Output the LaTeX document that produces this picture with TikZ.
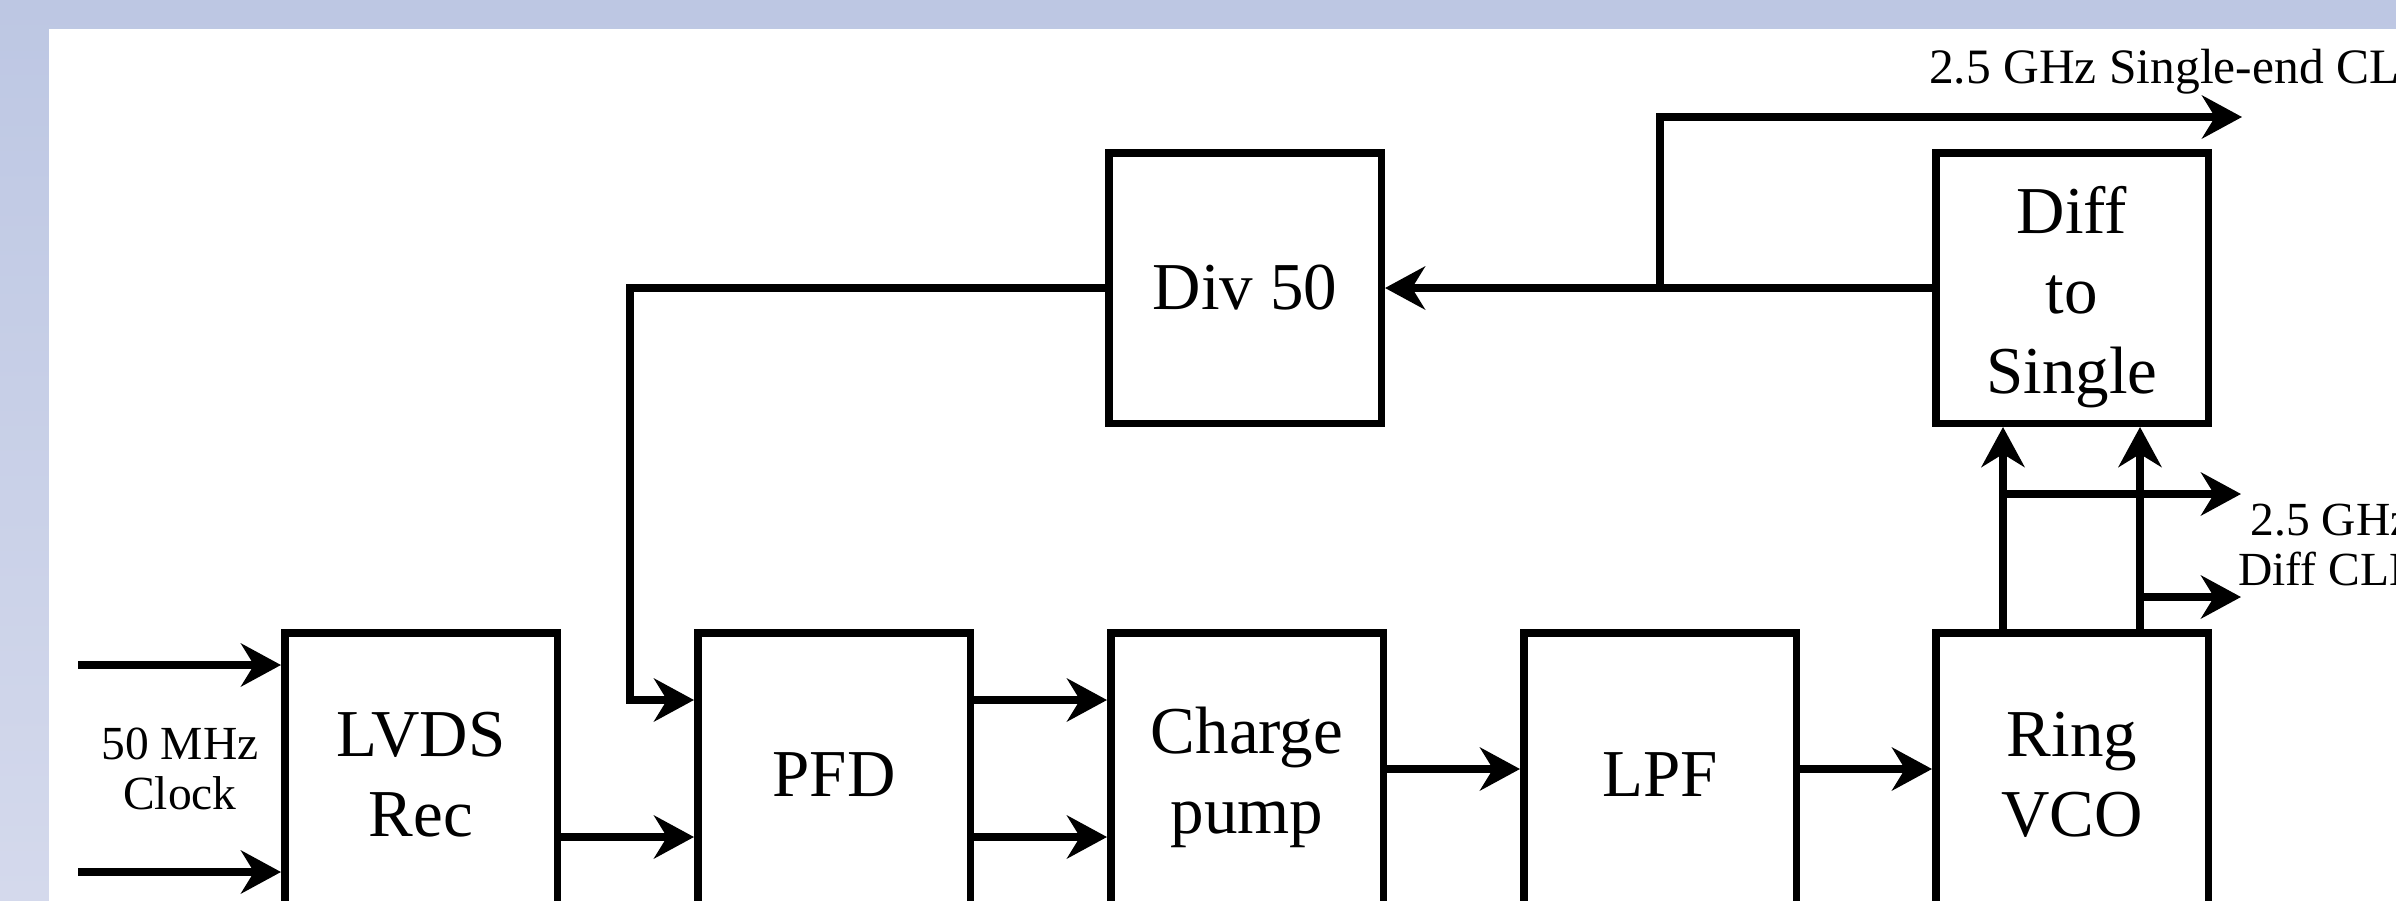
\documentclass[tikz,border=0pt]{standalone}
\usepackage{fontspec}
\setmainfont{Liberation Serif}
\usetikzlibrary{arrows.meta}
\newcommand\bxfont{\fontsize{67pt}{80pt}\selectfont}
\newcommand\lblfont{\fontsize{47.5pt}{50pt}\selectfont}
\newcommand\toplblfont{\fontsize{49.5pt}{52pt}\selectfont}
\definecolor{bgtop}{RGB}{189,199,227}
\definecolor{bgbot}{RGB}{212,217,236}
\tikzset{
  blk/.style={draw, line width=7.5pt, minimum width=272.5pt, inner sep=0pt, align=center, font=\bxfont},
  toprow/.style={blk, minimum height=270.5pt},
  botrow/.style={blk, minimum height=284.5pt},
  arr/.style={line width=7.5pt, -{Stealth[length=40pt,width=43pt,inset=13pt]}},
  lbl/.style={inner sep=0pt, align=center, font=\lblfont}
}
\begin{document}
\begin{tikzpicture}[x=1pt,y=-1pt]
\useasboundingbox (0,0) rectangle (2396,900);
\clip (0,0) rectangle (2396,900);
\shade[top color=bgtop, bottom color=bgbot] (0,0) rectangle (2396,900);
\fill[white] (49,29) rectangle (2420,930);

% boxes
\node[botrow] (lvds) at (421,775) {LVDS\\Rec};
\node[botrow] (pfd)  at (834,775) {PFD};
\node[botrow] (cp)   at (1247,775) {\rule{0pt}{52pt}Charge\\pump};
\node[botrow] (lpf)  at (1660,775) {LPF};
\node[botrow] (vco)  at (2072,775) {Ring\\VCO};
\node[toprow] (div)  at (1245,288) {Div 50};
\node[toprow] (d2s)  at (2072,288) {\rule{0pt}{66pt}Diff\\to\\Single};

% labels
\node[lbl] (clk) at (180,769) {50 MHz\\Clock};
\node[lbl] (dclk) at (2331,545) {2.5 GHz\\Diff CLK};
\node[lbl, font=\toplblfont, anchor=base west] (sclk) at (1929,83) {2.5 GHz Single-end CLK};

% inputs
\coordinate (in1) at (78,665);
\coordinate (in2) at (78,872);
\draw[arr] (in1) -- (in1 -| lvds.west);
\draw[arr] (in2) -- (in2 -| lvds.west);

% forward chain
\draw[arr] ([yshift=-208pt]lvds.north east) -- ([yshift=-208pt]pfd.north west);
\draw[arr] ([yshift=-71pt]pfd.north east) -- ([yshift=-71pt]cp.north west);
\draw[arr] ([yshift=-208pt]pfd.north east) -- ([yshift=-208pt]cp.north west);
\draw[arr] ([yshift=6pt]cp.east) -- ([yshift=6pt]lpf.west);
\draw[arr] ([yshift=6pt]lpf.east) -- ([yshift=6pt]vco.west);

% feedback
\coordinate (pfdA) at ([yshift=-71pt]pfd.north west);
\coordinate (fb) at (630,0);
\draw[arr] (div.west) -| (fb |- pfdA) -- (pfdA);

% VCO to diff-to-single
\draw[arr] ([xshift=71pt]vco.north west) -- ([xshift=71pt]d2s.south west);
\draw[arr] ([xshift=-72pt]vco.north east) -- ([xshift=-72pt]d2s.south east);

% diff outputs
\coordinate (b1) at (2003,494);
\coordinate (b1e) at (2241,494);
\coordinate (b2) at (2140,597);
\coordinate (b2e) at (2241,597);
\draw[arr] (b1) -- (b1e);
\draw[arr] (b2) -- (b2e);

% diff-to-single to div
\draw[arr] (d2s.west) -- (div.east);

% single-end output
\coordinate (tb) at (1660,288);
\coordinate (tbe) at (2242,117);
\draw[arr] (tb) |- (tbe);
\end{tikzpicture}
\end{document}
